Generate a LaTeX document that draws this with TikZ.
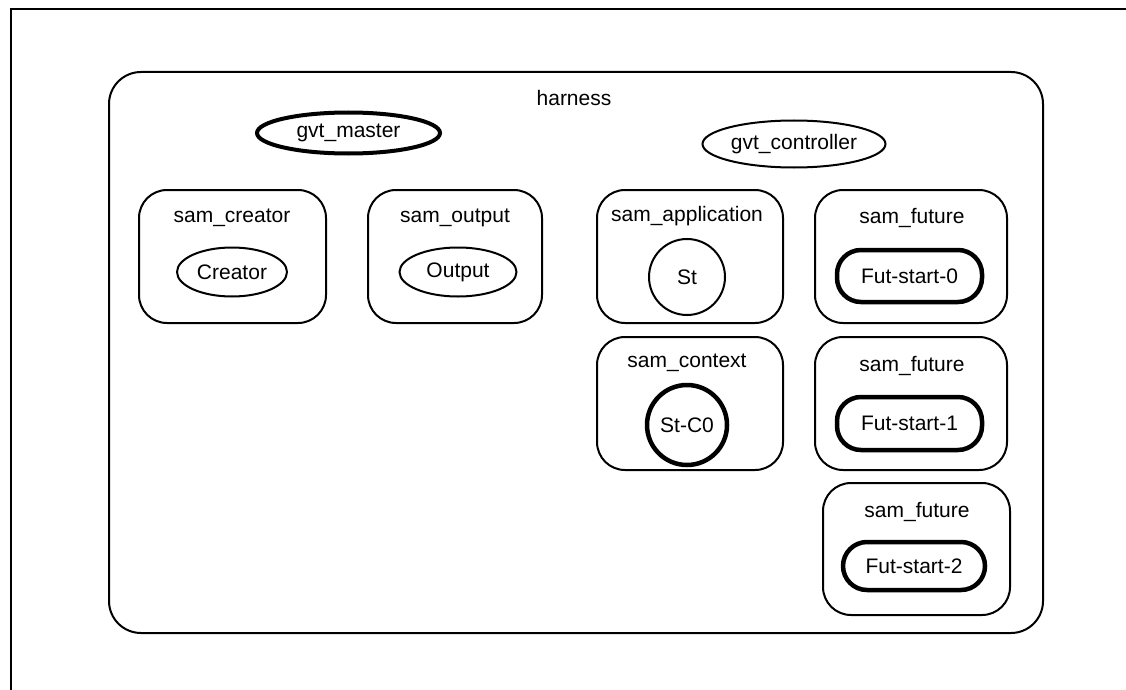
\documentclass[tikz,border=0pt]{standalone}
\usepackage{fontspec}
\setmainfont{Liberation Sans}
\usetikzlibrary{shapes.geometric}
\tikzset{
  px/.style={x=1pt,y=-1pt},
  txt/.style={font=\fontsize{21}{24}\selectfont, inner sep=0pt},
  cont/.style={draw, line width=2pt, rounded corners=28pt, inner sep=0pt},
  thinell/.style={draw, ellipse, line width=2pt, inner sep=0pt, font=\fontsize{21}{24}\selectfont},
  thickell/.style={draw, ellipse, line width=4pt, inner sep=0pt, font=\fontsize{21}{24}\selectfont},
  stad/.style={draw, line width=4.5pt, rounded corners=24pt, inner sep=0pt, font=\fontsize{21}{24}\selectfont},
}
\begin{document}
\begin{tikzpicture}[px]
\useasboundingbox (0,0) rectangle (1126,690);
% outer frame (top and left edges only)
\coordinate (ftr) at (1126,9);
\coordinate (ftl) at (11,9);
\coordinate (fbl) at (11,690);
\draw[line width=2pt] (ftr) -- (ftl) -- (fbl);

% harness
\node[cont, rounded corners=32pt, minimum width=934pt, minimum height=561pt] (harness) at (576,352.5) {};
\node[txt] (harnessl) at (574,98) {harness};

\node[thickell, minimum width=183pt, minimum height=41pt] (gvtm) at (348.5,133) {gvt\_master};
\node[thinell, minimum width=183pt, minimum height=47pt] (gvtc) at (794,144) {gvt\_controller};

% sam_creator
\node[cont, minimum width=187pt, minimum height=133pt] (screator) at (232.5,256.5) {};
\node[txt] (screatorl) at (232,218) {sam\_creator};
\node[thinell, minimum width=110pt, minimum height=49pt] (creator) at (232,272) {Creator};

% sam_output
\node[cont, minimum width=174pt, minimum height=133pt] (soutput) at (455,256.5) {};
\node[txt] (soutputl) at (455,218) {sam\_output};
\node[thinell, minimum width=117pt, minimum height=49pt] (output) at (458,272) {Output};

% sam_application
\node[cont, minimum width=186pt, minimum height=133pt] (sapp) at (690,256.5) {};
\node[txt] (sappl) at (687,216) {sam\_application};
\node[draw, circle, line width=2pt, minimum size=76pt, inner sep=0pt, font=\fontsize{21}{24}\selectfont] (st) at (687,277) {St};

% sam_context
\node[cont, minimum width=186pt, minimum height=133pt] (sctx) at (690,403.5) {};
\node[txt] (sctxl) at (687,363) {sam\_context};
\node[draw, circle, line width=4.5pt, minimum size=80pt, inner sep=0pt, font=\fontsize{21}{24}\selectfont] (stc) at (687,425) {St-C0};

% sam_future 0
\node[cont, minimum width=192pt, minimum height=133pt] (sfut0) at (911,256.5) {};
\node[txt] (sfut0l) at (912,218) {sam\_future};
\node[stad, minimum width=145pt, minimum height=52pt] (fs0) at (909.5,276) {Fut-start-0};

% sam_future 1
\node[cont, minimum width=192pt, minimum height=133pt] (sfut1) at (911,403.5) {};
\node[txt] (sfut1l) at (912,366) {sam\_future};
\node[stad, minimum width=145pt, minimum height=53pt] (fs1) at (909.5,423.5) {Fut-start-1};

% sam_future 2
\node[cont, minimum width=187pt, minimum height=132pt] (sfut2) at (916.5,549) {};
\node[txt] (sfut2l) at (917,512) {sam\_future};
\node[stad, minimum width=142pt, minimum height=48pt] (fs2) at (914,566) {Fut-start-2};
\end{tikzpicture}
\end{document}
